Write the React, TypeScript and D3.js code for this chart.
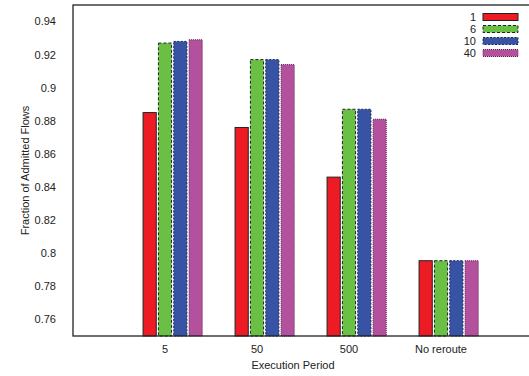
import React from "react";
import * as d3 from "d3";

const categories = ["5", "50", "500", "No reroute"];
const seriesNames = ["1", "6", "10", "40"];
const series1 = [0.885, 0.876, 0.846, 0.7955];
const series6 = [0.927, 0.917, 0.887, 0.7955];
const series10 = [0.928, 0.917, 0.887, 0.7955];
const series40 = [0.929, 0.914, 0.881, 0.7955];
const yTicks = [0.76, 0.78, 0.8, 0.82, 0.84, 0.86, 0.88, 0.9, 0.92, 0.94];

const allSeries = [series1, series6, series10, series40];
const fills = ["#ed1c24", "#6abf45", "#3953a4", "#b4519c"];
const strokes = ["#222", "#222", "#1a2a5a", "#5a2250"];
const dashes = ["none", "3,2", "2,1.5", "1,1"];

const width = 529;
const height = 376;
const margin = { top: 5, right: -4, bottom: 40, left: 73 };
const font = "'Liberation Sans', Arial, Helvetica, sans-serif";

export default function App() {
  const x = d3
    .scaleLinear()
    .domain([0, 5])
    .range([margin.left, width - margin.right]);
  const y = d3
    .scaleLinear()
    .domain([0.75, 0.95])
    .range([height - margin.bottom, margin.top]);

  const unit = x(1) - x(0);
  const pitch = unit / 6;
  const barW = pitch * 0.86;
  const yBase = y(0.75);

  return (
    <svg
      width={width}
      height={height}
      style={{ position: "absolute", left: 0, top: 0, fontFamily: font }}
    >
      <rect width={width} height={height} fill="#fff" />

      {/* bars */}
      {allSeries.map((vals, si) =>
        vals.map((v, ci) => {
          const cx = x(ci + 1) + (si - 1) * pitch;
          return (
            <rect
              key={`b-${si}-${ci}`}
              x={cx - barW / 2}
              y={y(v)}
              width={barW}
              height={yBase - y(v)}
              fill={fills[si]}
              stroke={strokes[si]}
              strokeWidth={1}
              strokeDasharray={dashes[si]}
            />
          );
        })
      )}

      {/* frame */}
      <rect
        x={margin.left}
        y={margin.top}
        width={width - margin.right - margin.left}
        height={yBase - margin.top}
        fill="none"
        stroke="#222"
        strokeWidth={1.3}
      />

      {/* y ticks */}
      {yTicks.map((t) => (
        <text
          key={`yt-${t}`}
          x={margin.left - 17}
          y={y(t)}
          dy="0.35em"
          textAnchor="end"
          fontSize={11}
          fill="#222"
        >
          {d3.format("")(t)}
        </text>
      ))}

      {/* x ticks */}
      {categories.map((c, i) => (
        <text
          key={`xt-${c}`}
          x={x(i + 1)}
          y={yBase + 13}
          dy="0.35em"
          textAnchor="middle"
          fontSize={11}
          fill="#222"
        >
          {c}
        </text>
      ))}

      <text
        x={(margin.left + 529) / 2 - 8}
        y={365}
        dy="0.35em"
        textAnchor="middle"
        fontSize={11}
        fill="#222"
      >
        Execution Period
      </text>
      <text
        transform={`translate(25,${(margin.top + yBase) / 2}) rotate(-90)`}
        dy="0.35em"
        textAnchor="middle"
        fontSize={11}
        fill="#222"
      >
        Fraction of Admitted Flows
      </text>

      {/* legend */}
      {seriesNames.map((n, i) => {
        const ly = 17 + i * 12;
        return (
          <g key={`lg-${n}`}>
            <text x={476} y={ly} dy="0.35em" textAnchor="end" fontSize={11} fill="#222">
              {n}
            </text>
            <rect
              x={483}
              y={ly - 3.5}
              width={35}
              height={7}
              fill={fills[i]}
              stroke={strokes[i]}
              strokeWidth={1}
              strokeDasharray={dashes[i]}
            />
          </g>
        );
      })}
    </svg>
  );
}
